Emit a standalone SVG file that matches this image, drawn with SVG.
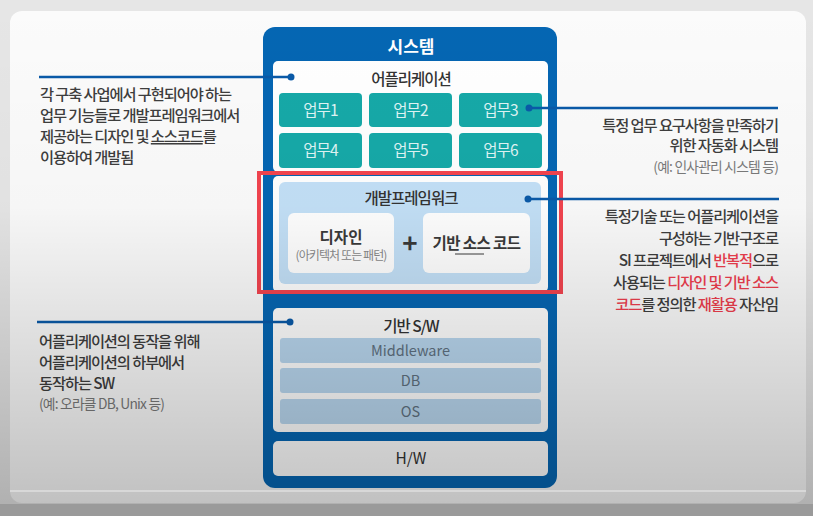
<svg xmlns="http://www.w3.org/2000/svg" width="813" height="516" viewBox="0 0 813 516">
<style>
text{font-family:"Noto Sans CJK KR","Noto Sans",sans-serif}
.body{font-size:15.3px;fill:#3e3e3e;letter-spacing:-1.1px;font-weight:500}
.note{font-size:13.8px;fill:#7a7a7a;letter-spacing:-0.8px}
.red{fill:#ee3e4e}
.ttl{font-size:15.5px;fill:#333;text-anchor:middle;letter-spacing:-1px;font-weight:500}
.task{fill:#16a9a8}
.tasktxt{font-size:15.5px;fill:#dff4f4;text-anchor:middle;letter-spacing:-0.8px}
.inner{fill:#ffffff}
.bar{fill:#b9d7ef}
.bartxt{font-size:14.5px;fill:#5f7181;text-anchor:middle}
.lead{stroke:#0a5aa8;stroke-width:2.5;fill:none}
.dot{fill:#0a5aa8}
</style>
<defs>
<linearGradient id="shade" x1="0" y1="0" x2="0" y2="1">
<stop offset="0" stop-color="#000" stop-opacity="0"/>
<stop offset="0.4" stop-color="#000" stop-opacity="0.02"/>
<stop offset="1" stop-color="#000" stop-opacity="0.24"/>
</linearGradient>
</defs>
<rect x="0" y="0" width="813" height="516" fill="#e6e6e6"/>
<rect x="10" y="11" width="796" height="492" rx="12" fill="#fbfbfb"/>

<g id="system">
<rect x="263" y="27" width="294" height="461" rx="12" fill="#0566b3"/>
<text x="411" y="53" font-size="17" font-weight="700" fill="#ffffff" text-anchor="middle">시스템</text>
</g>

<g id="application">
<rect x="273" y="61" width="275" height="111" rx="5" class="inner"/>
<text x="411" y="85" class="ttl">어플리케이션</text>
</g>
<g id="task1"><rect x="279" y="93" width="83" height="34" rx="4" class="task"/><text x="320.5" y="115.5" class="tasktxt">업무1</text></g>
<g id="task2"><rect x="369" y="93" width="83" height="34" rx="4" class="task"/><text x="410.5" y="115.5" class="tasktxt">업무2</text></g>
<g id="task3"><rect x="459" y="93" width="83" height="34" rx="4" class="task"/><text x="500.5" y="115.5" class="tasktxt">업무3</text></g>
<g id="task4"><rect x="279" y="133" width="83" height="35" rx="4" class="task"/><text x="320.5" y="156" class="tasktxt">업무4</text></g>
<g id="task5"><rect x="369" y="133" width="83" height="35" rx="4" class="task"/><text x="410.5" y="156" class="tasktxt">업무5</text></g>
<g id="task6"><rect x="459" y="133" width="83" height="35" rx="4" class="task"/><text x="500.5" y="156" class="tasktxt">업무6</text></g>

<g id="framework">
<rect x="273" y="176" width="275" height="116" rx="5" class="inner"/>
<rect x="279" y="182" width="262" height="102" rx="6" fill="#c3e0f7"/>
<text x="411" y="204" class="ttl">개발프레임워크</text>
</g>
<g id="design">
<rect x="288" y="213" width="106" height="60" rx="6" class="inner"/>
<text x="341" y="243" font-size="15.5" font-weight="700" fill="#3a3a3a" text-anchor="middle">디자인</text>
<text x="341" y="260" font-size="12" fill="#8a8a8a" text-anchor="middle" letter-spacing="-0.9">(아키텍처 또는 패턴)</text>
</g>
<g id="plus">
<text x="410" y="253" font-size="26" font-weight="700" fill="#3a3a3a" text-anchor="middle">+</text>
</g>
<g id="basecode">
<rect x="423" y="213" width="107" height="60" rx="6" class="inner"/>
<text x="476.5" y="249" font-size="15.5" font-weight="700" fill="#3a3a3a" text-anchor="middle" letter-spacing="-0.6">기반 소스 코드</text>
<line x1="455" y1="254" x2="484" y2="254" stroke="#3a3a3a" stroke-width="1"/>
</g>
<g id="highlight">
<rect x="259" y="173" width="302" height="119" fill="none" stroke="#f2444f" stroke-width="4"/>
</g>

<g id="basesw">
<rect x="273" y="308" width="275" height="124" rx="5" class="inner"/>
<text x="411" y="332" class="ttl">기반 S/W</text>
</g>
<g id="middleware"><rect x="280" y="338" width="261" height="25" rx="3" class="bar"/><text x="410.5" y="356" class="bartxt">Middleware</text></g>
<g id="db"><rect x="280" y="368" width="261" height="25" rx="3" class="bar"/><text x="410.5" y="386" class="bartxt">DB</text></g>
<g id="os"><rect x="280" y="399" width="261" height="25" rx="3" class="bar"/><text x="410.5" y="417" class="bartxt">OS</text></g>

<g id="hw">
<rect x="273" y="441" width="275" height="35" rx="5" class="inner"/>
<text x="411" y="464" font-size="15.5" fill="#333" text-anchor="middle">H/W</text>
</g>

<g id="connectors">
<line x1="39" y1="77" x2="291" y2="77" class="lead"/>
<circle cx="291" cy="77" r="3.5" class="dot"/>
<line x1="529" y1="108" x2="778" y2="108" class="lead"/>
<circle cx="529" cy="108" r="3.5" class="dot"/>
<line x1="528" y1="199" x2="779" y2="199" class="lead"/>
<circle cx="528" cy="199" r="3.5" class="dot"/>
<line x1="37" y1="322" x2="290" y2="322" class="lead"/>
<circle cx="290" cy="322" r="3.5" class="dot"/>
</g>

<g id="note-app">
<text x="40" y="100" class="body">각 구축 사업에서 구현되어야 하는</text>
<text x="40" y="121" class="body">업무 기능들로 개발프레임워크에서</text>
<text x="40" y="142" class="body">제공하는 디자인 및 <tspan text-decoration="underline">소스코드</tspan>를</text>
<text x="40" y="163" class="body">이용하여 개발됨</text>
</g>

<g id="note-task">
<text x="778" y="131" class="body" text-anchor="end">특정 업무 요구사항을 만족하기</text>
<text x="778" y="151" class="body" text-anchor="end">위한 자동화 시스템</text>
<text x="778" y="172" class="note" text-anchor="end">(예: 인사관리 시스템 등)</text>
</g>

<g id="note-framework">
<text x="778" y="222" class="body" text-anchor="end">특정기술 또는 어플리케이션을</text>
<text x="778" y="244" class="body" text-anchor="end">구성하는 기반구조로</text>
<text x="778" y="266" class="body" text-anchor="end">SI 프로젝트에서 <tspan class="red">반복적</tspan>으로</text>
<text x="778" y="288" class="body" text-anchor="end">사용되는 <tspan class="red">디자인 및 기반 소스</tspan></text>
<text x="778" y="310" class="body" text-anchor="end"><tspan class="red">코드</tspan>를 정의한 <tspan class="red">재활용</tspan> 자산임</text>
</g>

<g id="note-basesw">
<text x="39" y="347" class="body">어플리케이션의 동작을 위해</text>
<text x="39" y="368" class="body">어플리케이션의 하부에서</text>
<text x="39" y="389" class="body">동작하는 SW</text>
<text x="39" y="409" class="note">(예: 오라클 DB, Unix 등)</text>
</g>

<rect x="0" y="0" width="813" height="516" fill="url(#shade)"/>
<rect x="10" y="490" width="796" height="2" fill="#ffffff" opacity="0.35"/>
<rect x="0" y="504" width="813" height="12" fill="#9a9a9a"/>
</svg>
